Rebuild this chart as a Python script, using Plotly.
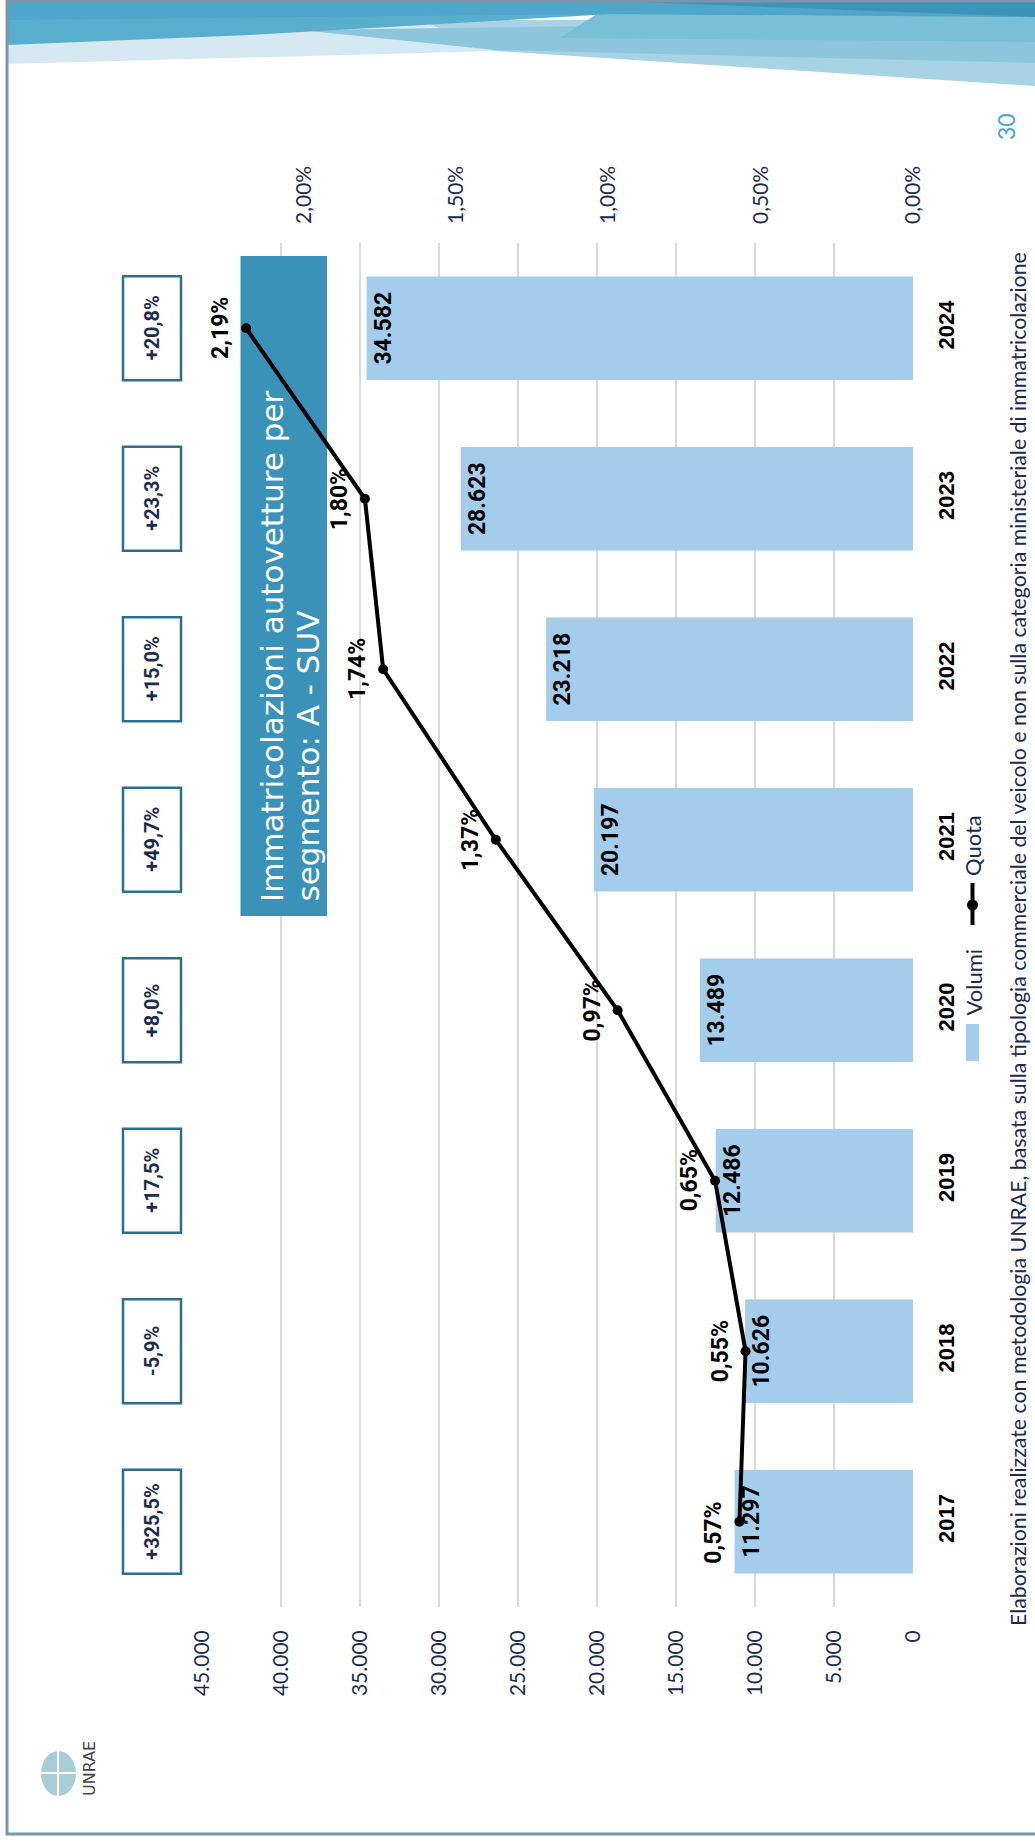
import plotly.graph_objects as go

# ---------------- data ----------------
years = ["2017", "2018", "2019", "2020", "2021", "2022", "2023", "2024"]
volumes = [11297, 10626, 12486, 13489, 20197, 23218, 28623, 34582]
volume_labels = ["11.297", "10.626", "12.486", "13.489", "20.197", "23.218", "28.623", "34.582"]
share = [0.57, 0.55, 0.65, 0.97, 1.37, 1.74, 1.80, 2.19]
share_labels = ["0,57%", "0,55%", "0,65%", "0,97%", "1,37%", "1,74%", "1,80%", "2,19%"]
growth_labels = ["+325,5%", "-5,9%", "+17,5%", "+8,0%", "+49,7%", "+15,0%", "+23,3%", "+20,8%"]
vol_ticks = [0, 5000, 10000, 15000, 20000, 25000, 30000, 35000, 40000, 45000]
vol_tick_labels = ["0", "5.000", "10.000", "15.000", "20.000", "25.000", "30.000", "35.000", "40.000", "45.000"]
share_ticks = [0, 0.5, 1.0, 1.5, 2.0]
share_tick_labels = ["0,00%", "0,50%", "1,00%", "1,50%", "2,00%"]
title_lines = ["Immatricolazioni autovetture per", "segmento: A - SUV"]
legend_names = ["Volumi", "Quota"]
footnote = ("Elaborazioni realizzate con metodologia UNRAE, basata sulla tipologia commerciale "
            "del veicolo e non sulla categoria ministeriale di immatricolazione")
page_number = "30"

# ---------------- layout geometry ----------------
W, H = 1035, 1841
L, R, T, B = 202, 122, 243, 234
PW, PH = W - L - R, H - T - B
XMAX = 45000
NCAT = len(years)


def px(x):
    return (x - L) / PW


def py(y):
    return (H - B - y) / PH


def dx(x):  # pixel -> volume axis value (reversed axis)
    return (L + PW - x) / PW * XMAX


def dy(y):  # pixel -> category index
    return (H - B - y) / PH * NCAT - 0.5


NAVY = "#1b2a4e"
BAR = "#a4cdec"
LIGHTFONT = "Lato"

fig = go.Figure()

fig.add_trace(go.Bar(
    y=years, x=volumes, orientation="h", name=legend_names[0],
    marker=dict(color=BAR, line=dict(width=0)),
    text=volume_labels, textposition="inside", insidetextanchor="end",
    textangle=-90, constraintext="none",
    textfont=dict(family="Roboto", size=23, color="black", weight="bold"),
    showlegend=False,
))

fig.add_trace(go.Scatter(
    y=years, x=share, xaxis="x2", yaxis="y", name=legend_names[1],
    mode="lines+markers",
    line=dict(color="black", width=4),
    marker=dict(color="black", size=10),
    showlegend=False, cliponaxis=False,
))

shapes = []
annotations = []


def poly(points, color):
    d = "M " + " L ".join(f"{px(x):.5f},{py(y):.5f}" for x, y in points) + " Z"
    shapes.append(dict(type="path", path=d, xref="paper", yref="paper",
                       fillcolor=color, line=dict(width=0), layer="below"))


# banner decoration
poly([(7, 20), (620, 20), (495, 51), (7, 64)], "#d6e9f2")
poly([(420, 20), (1035, 20), (1035, 86), (495, 51)], "#a7d3e5")
poly([(300, 30), (1035, 20), (1035, 63), (495, 50)], "#8dc6dc")
poly([(600, 12), (1035, 12), (1035, 42), (560, 38)], "#78bfd8")
poly([(7, 2), (820, 2), (250, 35), (7, 45)], "#5aaecd")
poly([(7, 2), (1035, 2), (1035, 17), (600, 14), (7, 20)], "#4ea6ca")
poly([(640, 2), (1035, 2), (1035, 17)], "#3a93bb")

# frame
shapes.append(dict(type="rect", xref="paper", yref="paper",
                   x0=px(7), x1=px(1060), y0=py(1834), y1=py(1),
                   line=dict(color="#7b95aa", width=3), fillcolor="rgba(0,0,0,0)", layer="below"))

# title box (between gridlines and traces)
shapes.append(dict(type="rect", xref="x", yref="y",
                   x0=dx(240.5), x1=dx(327), y0=dy(916), y1=dy(256),
                   line=dict(width=0), fillcolor="#3a92b9", layer="between"))
for lx, line in zip([272, 307], title_lines):
    annotations.append(dict(text=line, xref="paper", yref="paper",
                            x=px(lx), y=py(904), xanchor="center", yanchor="bottom",
                            textangle=-90, showarrow=False,
                            font=dict(family="DejaVu Sans", size=31, color="white")))

# growth boxes
for i, g in enumerate(growth_labels):
    shapes.append(dict(type="rect", xref="paper", yref="y",
                       x0=px(123), x1=px(181), y0=i - 0.305, y1=i + 0.305,
                       line=dict(color="#2c6e8f", width=2.5), fillcolor="white"))
    annotations.append(dict(text=g, xref="paper", yref="y", x=px(152), y=i,
                            xanchor="center", yanchor="middle", textangle=-90, showarrow=False,
                            font=dict(family="Roboto", size=20, color=NAVY, weight="bold")))

# share labels
for i, s in enumerate(share_labels):
    annotations.append(dict(text=s, xref="x2", yref="y", x=share[i], y=i,
                            xanchor="right", yanchor="middle", xshift=-10,
                            yshift=-11 if i == 0 else 0,
                            textangle=-90, showarrow=False,
                            font=dict(family="Roboto", size=23, color="black", weight="bold")))

# manual legend
shapes.append(dict(type="rect", xref="paper", yref="paper",
                   x0=px(966), x1=px(979), y0=py(1061), y1=py(1024),
                   line=dict(width=0), fillcolor=BAR))
annotations.append(dict(text=legend_names[0], xref="paper", yref="paper",
                        x=px(972.5), y=py(982), xanchor="center", yanchor="middle",
                        textangle=-90, showarrow=False,
                        font=dict(family=LIGHTFONT, size=22, color=NAVY)))
shapes.append(dict(type="line", xref="paper", yref="paper",
                   x0=px(972.5), x1=px(972.5), y0=py(925), y1=py(883),
                   line=dict(color="black", width=4)))
shapes.append(dict(type="circle", xref="paper", yref="paper",
                   x0=px(967), x1=px(978), y0=py(910.5), y1=py(899.5),
                   line=dict(width=0), fillcolor="black"))
annotations.append(dict(text=legend_names[1], xref="paper", yref="paper",
                        x=px(972.5), y=py(878), xanchor="center", yanchor="bottom",
                        textangle=-90, showarrow=False,
                        font=dict(family=LIGHTFONT, size=22, color=NAVY)))

# footnote
annotations.append(dict(text=footnote, xref="paper", yref="paper",
                        x=px(1018), y=py(1628), xanchor="center", yanchor="bottom",
                        textangle=-90, showarrow=False,
                        font=dict(family=LIGHTFONT, size=21.3, color=NAVY)))

# page number
annotations.append(dict(text=page_number, xref="paper", yref="paper",
                        x=px(1006), y=py(127), xanchor="center", yanchor="middle",
                        textangle=-90, showarrow=False,
                        font=dict(family=LIGHTFONT, size=23, color="#4aa6cc")))

# logo approximation
shapes.append(dict(type="circle", xref="paper", yref="paper",
                   x0=px(41), x1=px(76), y0=py(1796), y1=py(1751),
                   line=dict(width=0), fillcolor="#a9cdd6"))
shapes.append(dict(type="line", xref="paper", yref="paper",
                   x0=px(41), x1=px(76), y0=py(1773), y1=py(1773),
                   line=dict(color="white", width=2)))
shapes.append(dict(type="line", xref="paper", yref="paper",
                   x0=px(58), x1=px(58), y0=py(1796), y1=py(1751),
                   line=dict(color="white", width=2)))
annotations.append(dict(text="UNRAE", xref="paper", yref="paper",
                        x=px(90), y=py(1769), xanchor="center", yanchor="middle",
                        textangle=-90, showarrow=False,
                        font=dict(family="DejaVu Sans", size=16, color="#444444")))

fig.update_layout(
    width=W, height=H,
    margin=dict(l=L, r=R, t=T, b=B, pad=0),
    paper_bgcolor="white", plot_bgcolor="rgba(0,0,0,0)",
    bargap=0.394,
    showlegend=False,
    xaxis=dict(
        range=[XMAX, 0], tickvals=vol_ticks, ticktext=vol_tick_labels,
        tickangle=-90, ticks="", ticklabelstandoff=18,
        tickfont=dict(family=LIGHTFONT, size=21, color=NAVY),
        showgrid=True, gridcolor="#d9d9d9", gridwidth=1.5,
        zeroline=False, showline=False, fixedrange=True,
    ),
    xaxis2=dict(
        overlaying="x", side="top", range=[2.335, 0],
        tickvals=share_ticks, ticktext=share_tick_labels,
        tickangle=-90, ticks="", ticklabelstandoff=18,
        tickfont=dict(family=LIGHTFONT, size=21, color=NAVY),
        showgrid=False, zeroline=False, showline=False,
    ),
    yaxis=dict(
        type="category", side="right", tickangle=-90, ticks="",
        ticklabelstandoff=18,
        tickfont=dict(family="Liberation Sans", size=22, color="black", weight="bold"),
        showgrid=False, zeroline=False, showline=False,
        range=[-0.5, NCAT - 0.5],
    ),
    shapes=shapes,
    annotations=annotations,
)

fig.write_html("out.html")
